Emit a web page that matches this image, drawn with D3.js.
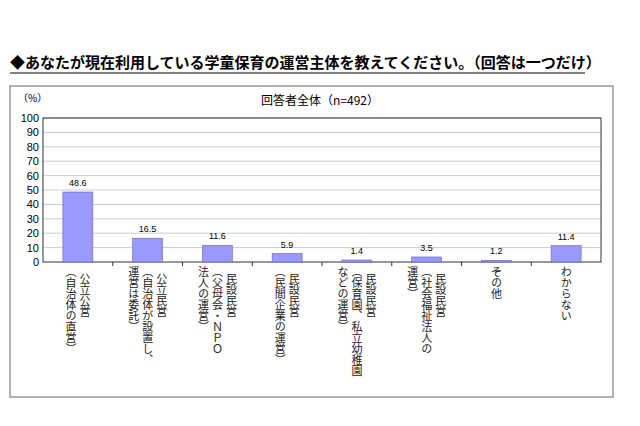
<!DOCTYPE html>
<html><head><meta charset="utf-8">
<script src="https://cdn.jsdelivr.net/npm/d3@7"></script>
<style>
body{margin:0;background:#fff;font-family:"Noto Sans CJK JP",sans-serif;}
#wrap{position:relative;width:640px;height:426px;}
.vlab{position:absolute;writing-mode:vertical-rl;font-size:11px;line-height:14px;color:#222;white-space:nowrap;}
.vlab span{display:block;}
.vlab .main{padding-top:7px;}
</style></head>
<body><div id="wrap"><svg width="640" height="426"></svg></div>
<script>
const categories = ["公立公営","公立民営","民設民営A","民設民営B","民設民営C","民設民営D","その他","わからない"];
const labelLines = [
  ["公立公営","（自治体の直営）"],
  ["公立民営","（自治体が設置し、","運営は委託）"],
  ["民設民営","（父母会・ＮＰＯ","法人の運営）"],
  ["民設民営","（民間企業の運営）"],
  ["民設民営","（保育園、私立幼稚園","などの運営）"],
  ["民設民営","（社会福祉法人の","運営）"],
  ["その他"],
  ["わからない"]
];
const values = [48.6,16.5,11.6,5.9,1.4,3.5,1.2,11.4];
const yTicks = [0,10,20,30,40,50,60,70,80,90,100];

const svg = d3.select("svg");
const L=43,R=601,T=118,B=262;
svg.append("text").attr("x",10).attr("y",68).attr("font-size",15).attr("font-weight","bold")
  .attr("fill","#000").text("◆あなたが現在利用している学童保育の運営主体を教えてください。（回答は一つだけ）");
svg.append("line").attr("x1",10).attr("x2",585).attr("y1",73).attr("y2",73).attr("stroke","#000").attr("stroke-width",1.2);
svg.append("rect").attr("x",10).attr("y",86).attr("width",603).attr("height",311).attr("fill","none").attr("stroke","#999").attr("stroke-width",1.5);
svg.append("text").attr("x",18).attr("y",102).attr("font-size",10).text("（%）");
svg.append("text").attr("x",320).attr("y",105).attr("font-size",12).attr("text-anchor","middle").text("回答者全体（n=492）");

const x=d3.scaleBand().domain(categories).range([L,R]);
const y=d3.scaleLinear().domain([0,100]).range([B,T]);
svg.append("g").selectAll("line").data(yTicks.slice(1)).join("line")
  .attr("x1",L).attr("x2",R).attr("y1",d=>y(d)).attr("y2",d=>y(d)).attr("stroke","#ccc");
svg.append("rect").attr("x",L).attr("y",T).attr("width",R-L).attr("height",B-T).attr("fill","none").attr("stroke","#333");
const ya=svg.append("g").attr("transform",`translate(${L},0)`).call(d3.axisLeft(y).tickValues(yTicks).tickSize(0).tickPadding(4));
ya.select(".domain").remove();
ya.selectAll("text").attr("font-size",11).attr("font-family","Liberation Sans,sans-serif");
svg.append("g").selectAll("line").data(categories.slice(1)).join("line")
  .attr("x1",d=>x(d)).attr("x2",d=>x(d)).attr("y1",B).attr("y2",B+4).attr("stroke","#333");
const bw=x.bandwidth()*0.43;
svg.append("g").selectAll("rect").data(values).join("rect")
  .attr("x",(d,i)=>x(categories[i])+(x.bandwidth()-bw)/2).attr("y",d=>y(d))
  .attr("width",bw).attr("height",d=>B-y(d)).attr("fill","#9999ff").attr("stroke","#6666aa").attr("stroke-width",0.6);
svg.append("g").selectAll("text").data(values).join("text")
  .attr("x",(d,i)=>x(categories[i])+x.bandwidth()/2).attr("y",d=>y(d)-6)
  .attr("text-anchor","middle").attr("font-size",9).attr("font-family","Liberation Sans,sans-serif").text(d=>d.toFixed(1));

const wrap=d3.select("#wrap");
labelLines.forEach((lines,i)=>{
  const cx=x(categories[i])+x.bandwidth()/2;
  const w=lines.length*14;
  const div=wrap.append("div").attr("class","vlab")
    .style("left",(cx-w/2)+"px").style("top","266px");
  lines.forEach((t,j)=>div.append("span").attr("class",j===0&&lines.length>1?"main":null).text(t));
});
</script></body></html>
